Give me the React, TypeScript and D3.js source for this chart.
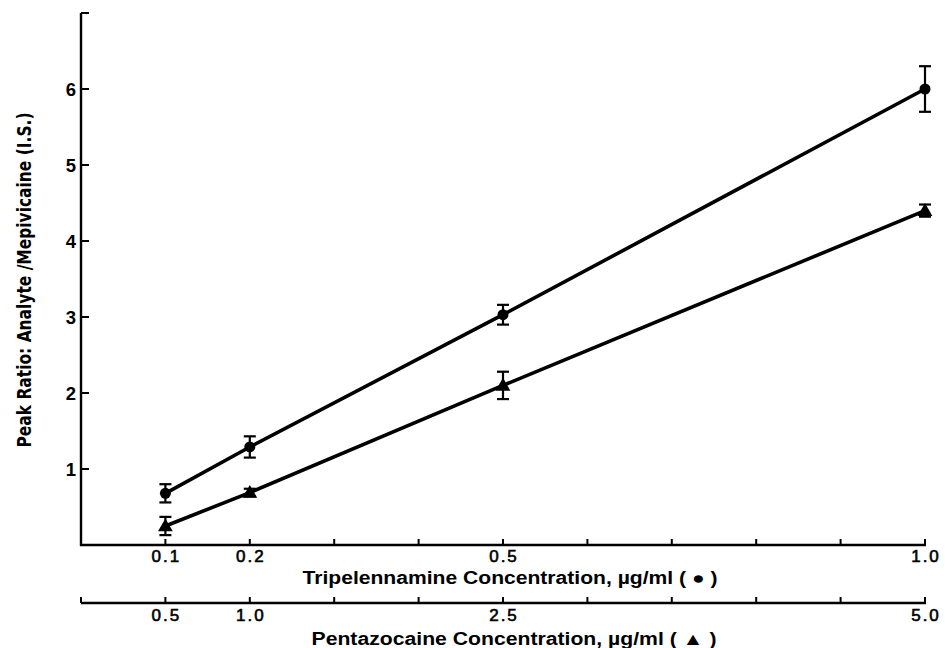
import React from "react";
import * as d3 from "d3";

// Tripelennamine (circles), µg/ml
const triConc = [0.1, 0.2, 0.5, 1.0];
const triRatio = [0.68, 1.29, 3.03, 6.0];
const triErr = [0.12, 0.14, 0.13, 0.3];

// Pentazocaine (triangles), µg/ml
const pentConc = [0.5, 1.0, 2.5, 5.0];
const pentRatio = [0.25, 0.69, 2.1, 4.4];
const pentErr = [0.12, 0.05, 0.18, 0.08];

const yTickValues = [1, 2, 3, 4, 5, 6, 7];
const yTickLabels = ["1", "2", "3", "4", "5", "6", ""];
const triTickValues = [0.1, 0.2, 0.3, 0.4, 0.5, 0.6, 0.7, 0.8, 0.9, 1.0];
const triTickLabels = ["0.1", "0.2", "", "", "0.5", "", "", "", "", "1.0"];
const pentTickValues = [0.5, 1.0, 1.5, 2.0, 2.5, 3.0, 3.5, 4.0, 4.5, 5.0];
const pentTickLabels = ["0.5", "1.0", "", "", "2.5", "", "", "", "", "5.0"];

const yTitle = "Peak Ratio: Analyte /Mepivicaine (I.S.)";
const triTitle = "Tripelennamine Concentration, µg/ml ( ● )";
const pentTitle = "Pentazocaine Concentration, µg/ml ( ▲ )";

export default function App() {
  const W = 945, H = 648;
  const x0 = 81, x1 = 925;
  const yAxisY = 545, pentAxisY = 603;
  const xTri = d3.scaleLinear().domain([0, 1]).range([x0, x1]);
  const xPent = d3.scaleLinear().domain([0, 5]).range([x0, x1]);
  const y = d3.scaleLinear().domain([0, 7]).range([yAxisY, 13]);

  const triPts: [number, number][] = triConc.map((c, i) => [xTri(c), y(triRatio[i])]);
  const pentPts: [number, number][] = pentConc.map((c, i) => [xPent(c), y(pentRatio[i])]);
  const line = d3.line();
  const sans = "'Liberation Sans', Arial, Helvetica, sans-serif";
  const narrow = "'Liberation Sans Narrow', 'Arial Narrow', 'DejaVu Sans Condensed', sans-serif";
  const tri = d3.symbol().type(d3.symbolTriangle).size(95)();

  const errBar = (cx: number, v: number, e: number, k: string) => (
    <g key={k} stroke="#000" strokeWidth={2.2} fill="none">
      <line x1={cx} x2={cx} y1={y(v + e)} y2={y(v - e)} />
      <line x1={cx - 6} x2={cx + 6} y1={y(v + e)} y2={y(v + e)} />
      <line x1={cx - 6} x2={cx + 6} y1={y(v - e)} y2={y(v - e)} />
    </g>
  );

  return (
    <svg width={W} height={H} style={{ position: "absolute", left: 0, top: 0, background: "#fff" }}>
      <rect x={0} y={0} width={W} height={H} fill="#fff" />
      {/* Y axis */}
      <line x1={x0} x2={x0} y1={y(7)} y2={yAxisY + 1} stroke="#000" strokeWidth={2.4} />
      {yTickValues.map((v, i) => (
        <g key={"yt" + v}>
          <line x1={x0} x2={x0 + 8} y1={y(v)} y2={y(v)} stroke="#000" strokeWidth={2} />
          <text x={76} y={y(v) + 7} textAnchor="end" fontFamily={sans} fontWeight="bold" fontSize={18.5}>
            {yTickLabels[i]}
          </text>
        </g>
      ))}
      <text
        transform={`translate(31, 280) rotate(-90)`}
        textAnchor="middle"
        fontFamily={narrow}
        fontWeight="bold"
        fontSize={19}
        textLength={335}
        lengthAdjust="spacingAndGlyphs"
      >
        {yTitle}
      </text>

      {/* Tripelennamine axis */}
      <line x1={x0 - 1} x2={x1 + 1} y1={yAxisY} y2={yAxisY} stroke="#000" strokeWidth={2.4} />
      {triTickValues.map((v, i) => (
        <g key={"tt" + v}>
          <line x1={xTri(v)} x2={xTri(v)} y1={yAxisY} y2={yAxisY - 6} stroke="#000" strokeWidth={2} />
          <text x={xTri(v) + 1} y={562} textAnchor="middle" fontFamily={sans} fontSize={17} letterSpacing={2} stroke="#000" strokeWidth={0.6}>
            {triTickLabels[i]}
          </text>
        </g>
      ))}
      <text x={510} y={584} textAnchor="middle" fontFamily={sans} fontWeight="bold" fontSize={17.5} textLength={415} lengthAdjust="spacingAndGlyphs">
        {triTitle}
      </text>

      {/* Pentazocaine axis */}
      <line x1={x0} x2={x1 + 1} y1={pentAxisY} y2={pentAxisY} stroke="#000" strokeWidth={2.4} />
      <line x1={x0} x2={x0} y1={pentAxisY} y2={pentAxisY - 6} stroke="#000" strokeWidth={2} />
      {pentTickValues.map((v, i) => (
        <g key={"pt" + v}>
          <line x1={xPent(v)} x2={xPent(v)} y1={pentAxisY} y2={pentAxisY - 6} stroke="#000" strokeWidth={2} />
          <text x={xPent(v) + 1} y={621} textAnchor="middle" fontFamily={sans} fontSize={17} letterSpacing={2} stroke="#000" strokeWidth={0.6}>
            {pentTickLabels[i]}
          </text>
        </g>
      ))}
      <text x={514} y={645} textAnchor="middle" fontFamily={sans} fontWeight="bold" fontSize={17.5} textLength={405} lengthAdjust="spacingAndGlyphs">
        {pentTitle}
      </text>

      {/* Lines */}
      <path d={line(triPts) || ""} fill="none" stroke="#000" strokeWidth={3.6} strokeLinejoin="round" />
      <path d={line(pentPts) || ""} fill="none" stroke="#000" strokeWidth={3.6} strokeLinejoin="round" />

      {/* Error bars and markers */}
      {triConc.map((c, i) => errBar(xTri(c), triRatio[i], triErr[i], "te" + i))}
      {pentConc.map((c, i) => errBar(xPent(c), pentRatio[i], pentErr[i], "pe" + i))}
      {triPts.map(([cx, cy], i) => (
        <circle key={"tc" + i} cx={cx} cy={cy} r={5.5} fill="#000" />
      ))}
      {pentPts.map(([cx, cy], i) => (
        <path key={"pm" + i} d={tri || ""} transform={`translate(${cx},${cy + 1})`} fill="#000" />
      ))}
    </svg>
  );
}
